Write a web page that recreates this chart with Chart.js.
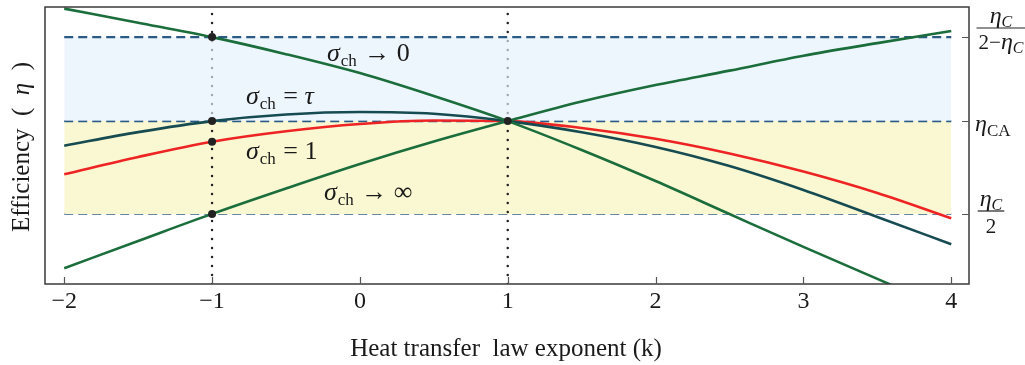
<!DOCTYPE html>
<html>
<head>
<meta charset="utf-8">
<script src="https://cdn.jsdelivr.net/npm/chart.js@4.4.1/dist/chart.umd.min.js"></script>
<style>
  html, body { margin: 0; padding: 0; background: #fff; }
  #wrap { width: 1025px; height: 365px; position: relative; }
</style>
</head>
<body>
<div id="wrap"><canvas id="effChart"></canvas></div>
<script>
// values (efficiency vs heat transfer law exponent k)
const kValues = [-2, -1.5, -1, -0.5, 0, 0.5, 1, 1.5, 2, 2.5, 3, 3.5, 4];
const etaSigmaZero = [0.4493, 0.4391, 0.4286, 0.4162, 0.4024, 0.3857, 0.3675, 0.3465, 0.3239, 0.2999, 0.2760, 0.2527, 0.2295];
const etaSigmaInf = [0.2605, 0.2803, 0.3000, 0.3185, 0.3363, 0.3526, 0.3675, 0.3817, 0.3937, 0.4042, 0.4151, 0.4242, 0.4330];
const etaSigmaTau = [0.3496, 0.3595, 0.3675, 0.3723, 0.3741, 0.3728, 0.3675, 0.3594, 0.3487, 0.3348, 0.3174, 0.2978, 0.2779];
const etaSigmaOne = [0.3288, 0.3414, 0.3525, 0.3601, 0.3654, 0.3679, 0.3675, 0.3625, 0.3546, 0.3439, 0.3308, 0.3152, 0.2968];

// eta_C/(2-eta_C), eta_CA, eta_C/2
const refLevels = [0.4286, 0.3675, 0.3000];
const xTicks = [-2, -1, 0, 1, 2, 3, 4];
const guideK = [-1, 1];

const X_MIN = -2.13, X_MAX = 4.12;
const Y_MIN = 0.249, Y_MAX = 0.4505;

const SERIF = '"Liberation Serif", "DejaVu Serif", serif';
const GREEN = '#1b6d3c';
const TEAL = '#174b52';
const RED = '#ee2424';

function pts(ys) {
    return kValues.map((k, i) => ({ x: k, y: ys[i] }));
}

function curve(label, ys, color) {
    return {
        label: label,
        data: pts(ys),
        borderColor: color,
        borderWidth: 2.6,
        pointRadius: 0,
        cubicInterpolationMode: 'monotone',
        fill: false,
        order: 1
    };
}

function refLine(y, color, fill, bg, order) {
    return {
        data: [{ x: xTicks[0], y: y }, { x: xTicks[xTicks.length - 1], y: y }],
        borderColor: color,
        borderWidth: 2.2,
        borderDash: [9, 5],
        pointRadius: 0,
        fill: fill,
        backgroundColor: bg,
        order: order
    };
}

function guide(k) {
    return {
        data: [{ x: k, y: Y_MIN }, { x: k, y: Y_MAX }],
        borderColor: '#222',
        borderWidth: 2.5,
        borderDash: [0, 9],
        borderCapStyle: 'round',
        pointRadius: 0,
        fill: false,
        order: 4
    };
}

const markers = [
    { x: guideK[0], y: etaSigmaZero[2] },
    { x: guideK[0], y: etaSigmaTau[2] },
    { x: guideK[0], y: etaSigmaOne[2] },
    { x: guideK[0], y: etaSigmaInf[2] },
    { x: guideK[1], y: refLevels[1] }
];

// draw a row of text pieces with different fonts
function drawRuns(ctx, x, y, runs) {
    runs.forEach(r => {
        x += r.dx || 0;
        ctx.font = r.f;
        ctx.fillText(r.t, x, y + (r.dy || 0));
        x += ctx.measureText(r.t).width;
    });
}

function runsWidth(ctx, runs) {
    let w = 0;
    runs.forEach(r => {
        ctx.font = r.f;
        w += ctx.measureText(r.t).width + (r.dx || 0);
    });
    return w;
}

function drawFrac(ctx, cx, barY, num, den, denGap) {
    const wn = runsWidth(ctx, num), wd = runsWidth(ctx, den);
    const w = Math.max(wn, wd) + 4;
    drawRuns(ctx, cx - wn / 2, barY - 5, num);
    drawRuns(ctx, cx - wd / 2, barY + denGap, den);
    ctx.beginPath();
    ctx.moveTo(cx - w / 2, barY);
    ctx.lineTo(cx + w / 2, barY);
    ctx.lineWidth = 1.2;
    ctx.strokeStyle = '#222';
    ctx.stroke();
}

const decor = {
    id: 'decor',
    afterDraw(chart) {
        const ctx = chart.ctx;
        const a = chart.chartArea;
        const xs = chart.scales.x, ys = chart.scales.y;
        ctx.save();

        // frame
        ctx.strokeStyle = '#3a3a3a';
        ctx.lineWidth = 1.5;
        ctx.strokeRect(a.left, a.top, a.right - a.left, a.bottom - a.top);

        // inward ticks
        ctx.lineWidth = 1.2;
        ctx.strokeStyle = '#555';
        ctx.beginPath();
        xTicks.forEach(v => {
            const px = Math.round(xs.getPixelForValue(v)) + 0.5;
            ctx.moveTo(px, a.bottom);
            ctx.lineTo(px, a.bottom - 7);
        });
        refLevels.forEach(v => {
            const py = Math.round(ys.getPixelForValue(v)) + 0.5;
            ctx.moveTo(a.right, py);
            ctx.lineTo(a.right - 7, py);
        });
        ctx.stroke();

        ctx.fillStyle = '#1a1a1a';
        ctx.textBaseline = 'alphabetic';
        ctx.textAlign = 'left';

        const big = '26px ' + SERIF, bigIt = 'italic 26px ' + SERIF, sub = '17px ' + SERIF;
        drawRuns(ctx, 327, 61, [{ t: 'σ', f: bigIt }, { t: 'ch', f: sub, dy: 5, dx: 1 }, { t: ' → 0', f: big, dx: 1 }]);
        drawRuns(ctx, 246, 104, [{ t: 'σ', f: bigIt }, { t: 'ch', f: sub, dy: 5, dx: 1 }, { t: ' = ', f: big, dx: 1 }, { t: 'τ', f: bigIt }]);
        drawRuns(ctx, 246, 159, [{ t: 'σ', f: bigIt }, { t: 'ch', f: sub, dy: 5, dx: 1 }, { t: ' = 1', f: big, dx: 1 }]);
        drawRuns(ctx, 324, 200, [{ t: 'σ', f: bigIt }, { t: 'ch', f: sub, dy: 5, dx: 1 }, { t: ' → ∞', f: big, dx: 1 }]);

        // right side labels
        const eta = 'italic 24px ' + SERIF, subIt = 'italic 16px ' + SERIF, subUp = '17px ' + SERIF, reg = '21px ' + SERIF;
        drawFrac(ctx, 1001, Math.round(ys.getPixelForValue(refLevels[0])) - 9,
            [{ t: 'η', f: eta }, { t: 'C', f: subIt, dy: 4 }],
            [{ t: '2−', f: reg }, { t: 'η', f: eta }, { t: 'C', f: subIt, dy: 4 }], 21);
        drawRuns(ctx, 975, Math.round(ys.getPixelForValue(refLevels[1])) + 10,
            [{ t: 'η', f: eta }, { t: 'CA', f: subUp, dy: 5 }]);
        drawFrac(ctx, 991, Math.round(ys.getPixelForValue(refLevels[2])) - 3,
            [{ t: 'η', f: eta }, { t: 'C', f: subIt, dy: 4 }],
            [{ t: '2', f: reg }], 22);

        // axis titles
        ctx.font = '25px ' + SERIF;
        ctx.textAlign = 'center';
        ctx.textBaseline = 'middle';
        ctx.fillText('Heat transfer  law exponent (k)', (a.left + a.right) / 2 - 1, 349);

        ctx.translate(22, 147);
        ctx.rotate(-Math.PI / 2);
        ctx.textAlign = 'left';
        const yRuns = [{ t: 'Efficiency  (  ', f: '25px ' + SERIF }, { t: 'η', f: 'italic 25px ' + SERIF }, { t: '  )', f: '25px ' + SERIF }];
        drawRuns(ctx, -runsWidth(ctx, yRuns) / 2, 0, yRuns);
        ctx.restore();
    }
};

new Chart(document.getElementById('effChart'), {
    type: 'line',
    data: {
        datasets: [
            { data: markers, showLine: false, pointRadius: 4, pointBackgroundColor: '#222', pointBorderColor: '#222', pointBorderWidth: 0, order: 0 },
            curve('σ→0', etaSigmaZero, GREEN),
            curve('σ→∞', etaSigmaInf, GREEN),
            curve('σ=τ', etaSigmaTau, TEAL),
            curve('σ=1', etaSigmaOne, RED),
            refLine(refLevels[0], '#2b5a84', '+1', 'rgba(229, 241, 252, 0.66)', 3),
            refLine(refLevels[1], '#2b5a84', '+1', '#f9f8d2', 5),
            refLine(refLevels[2], '#6586a5', false, 'transparent', 5),
            guide(guideK[0]),
            guide(guideK[1])
        ]
    },
    options: {
        responsive: true,
        maintainAspectRatio: false,
        animation: false,
        layout: { padding: { left: 45, top: 7, right: 56, bottom: 31 } },
        plugins: { legend: { display: false }, tooltip: { enabled: false } },
        scales: {
            x: {
                type: 'linear',
                min: X_MIN,
                max: X_MAX,
                afterBuildTicks: axis => { axis.ticks = xTicks.map(v => ({ value: v })); },
                afterFit: axis => { axis.height = 50; },
                grid: { display: false, drawTicks: false },
                border: { display: false },
                ticks: {
                    padding: 3,
                    color: '#1a1a1a',
                    font: { family: SERIF, size: 24 },
                    callback: v => (v < 0 ? '−' + Math.abs(v) : String(v))
                }
            },
            y: {
                type: 'linear',
                min: Y_MIN,
                max: Y_MAX,
                display: false
            }
        }
    },
    plugins: [decor]
});
</script>
</body>
</html>
